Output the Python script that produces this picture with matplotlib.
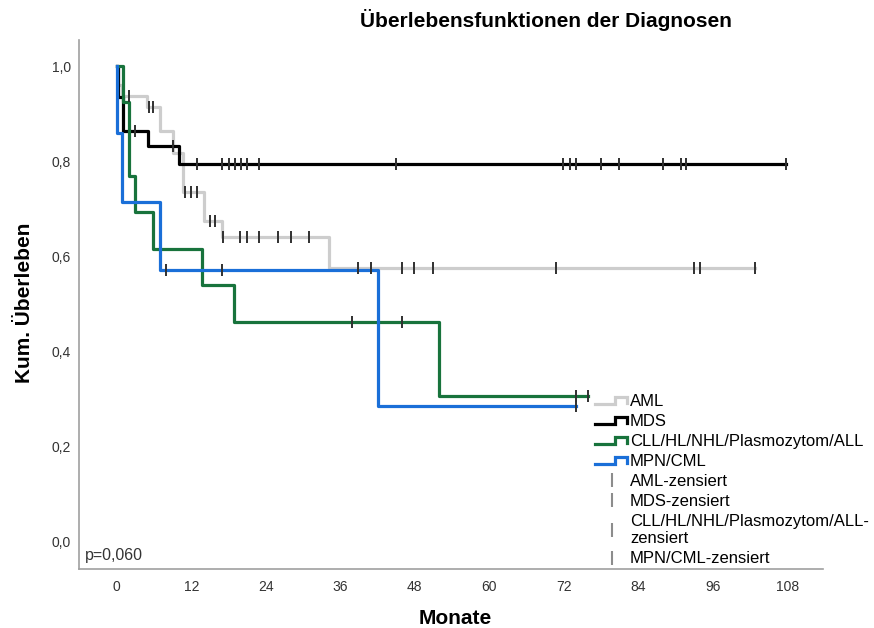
import numpy as np
import matplotlib
matplotlib.use('Agg')
import matplotlib.pyplot as plt
from matplotlib.lines import Line2D
from matplotlib.legend_handler import HandlerLine2D

plt.rcParams['font.family'] = ['Liberation Sans', 'DejaVu Sans']

# ===== Daten: Kaplan-Meier-Stufen (Monate, Überlebensrate) =====
groups = ['AML', 'MDS', 'CLL/HL/NHL/Plasmozytom/ALL', 'MPN/CML']
colors = ['#cdcdcd', '#000000', '#18733c', '#1a6fd8']

aml_t = [0, 0.25, 0.8, 4.9, 7.0, 9.1, 10.7, 14.0, 17.0, 34.1]
aml_s = [1.0, 0.961, 0.938, 0.915, 0.864, 0.817, 0.735, 0.675, 0.641, 0.576]
aml_end = 102.8
aml_cens = [2.0, 5.2, 5.8, 11.0, 12.0, 12.9, 15.0, 15.9, 17.1, 19.9, 20.9, 22.9,
            26.0, 28.0, 31.0, 38.9, 40.9, 46.0, 47.9, 50.9, 70.8, 92.9, 93.9, 102.8]

mds_t = [0, 0.2, 1.0, 5.1, 10.0]
mds_s = [1.0, 0.936, 0.865, 0.833, 0.794]
mds_end = 107.8
mds_cens = [2.95, 9.1, 13.0, 17.0, 18.0, 19.0, 20.0, 21.0, 22.9, 45.0, 71.9, 72.9,
            73.9, 77.9, 80.9, 87.9, 90.8, 91.7, 107.8]

cll_t = [0, 1.0, 2.0, 2.95, 5.9, 13.8, 18.9, 51.9]
cll_s = [1.0, 0.926, 0.769, 0.693, 0.615, 0.540, 0.461, 0.307]
cll_end = 75.8
cll_cens = [37.9, 46.0, 73.9, 75.8]

mpn_t = [0, 0.05, 0.8, 7.0, 42.0]
mpn_s = [1.0, 0.859, 0.715, 0.571, 0.286]
mpn_end = 73.9
mpn_cens = [7.9, 17.0, 73.9]

curves = [(aml_t, aml_s, aml_end, aml_cens),
          (mds_t, mds_s, mds_end, mds_cens),
          (cll_t, cll_s, cll_end, cll_cens),
          (mpn_t, mpn_s, mpn_end, mpn_cens)]

x_ticks = [0, 12, 24, 36, 48, 60, 72, 84, 96, 108]
y_ticks = [0.0, 0.2, 0.4, 0.6, 0.8, 1.0]
p_text = 'p=0,060'


class StepHandler(HandlerLine2D):
    # kleines Treppensymbol in der Legende
    def create_artists(self, legend, orig_handle, xdescent, ydescent,
                       width, height, fontsize, trans):
        xs = np.array([0.0, 0.6, 0.6, 0.95, 0.95]) * width - xdescent
        ys = np.array([0.15, 0.15, 0.75, 0.75, 0.3]) * height - ydescent
        line = Line2D(xs, ys, color=orig_handle.get_color(),
                      lw=orig_handle.get_linewidth(), solid_joinstyle='miter')
        line.set_transform(trans)
        return [line]


fig = plt.figure(figsize=(8.74, 6.28), dpi=100)
ax = fig.add_axes([0.0904, 0.0939, 0.8512, 0.8424])

censor_color = '#303030'
handles = []
for (t, s, end, cens), col, name in zip(curves, colors, groups):
    t = np.asarray(t)
    s = np.asarray(s)
    ln, = ax.step(np.r_[t, end], np.r_[s, s[-1]], where='post',
                  color=col, lw=2.3, label=name)
    handles.append(ln)

for (t, s, end, cens), col in zip(curves, colors):
    t = np.asarray(t)
    s = np.asarray(s)
    c = np.asarray(cens)
    cy = s[np.searchsorted(t, c, side='right') - 1]
    ax.plot(c, cy, ls='none', marker='|', ms=9, mew=1.4, color=censor_color, zorder=5)

ax.set_xlim(-6.07, 113.7)
ax.set_ylim(-0.058, 1.0556)
ax.set_xticks(x_ticks)
ax.set_xticklabels([str(v) for v in x_ticks])
ax.set_yticks(y_ticks)
ax.set_yticklabels([f'{v:.1f}'.replace('.', ',') for v in y_ticks])
ax.tick_params(length=0, labelsize=10, labelcolor='#333333')
ax.tick_params(axis='y', pad=6)
ax.tick_params(axis='x', pad=8)
for side in ['top', 'right']:
    ax.spines[side].set_visible(False)
for side in ['left', 'bottom']:
    ax.spines[side].set_color('#a0a0a0')
    ax.spines[side].set_linewidth(1.2)

ax.text(0.008, 0.026, p_text, transform=ax.transAxes, ha='left', va='center',
        fontsize=11.5, color='#333333')

fig.text(0.625, 0.968, 'Überlebensfunktionen der Diagnosen', ha='center', va='center',
         fontsize=15, fontweight='bold')
fig.text(455 / 874, 1 - 619 / 628, 'Monate', ha='center', va='center',
         fontsize=15, fontweight='bold')
fig.text(25 / 874, 1 - 303 / 628, 'Kum. Überleben', ha='center', va='center',
         rotation=90, fontsize=15, fontweight='bold')

# Legende mit Zensierungszeichen
cens_handles = [Line2D([], [], ls='none', marker='|', ms=10, mew=1.5, color='#8c8c8c')
                for _ in groups]
cens_labels = ['AML-zensiert', 'MDS-zensiert', 'CLL/HL/NHL/Plasmozytom/ALL-\nzensiert',
               'MPN/CML-zensiert']
hmap = {h: StepHandler() for h in handles}
leg = fig.legend(handles + cens_handles, groups + cens_labels,
                 loc='upper left', bbox_to_anchor=(595 / 874, 1 - 394 / 628),
                 frameon=False, fontsize=12, handlelength=2.0, handletextpad=0.1,
                 labelspacing=0.3, borderpad=0, borderaxespad=0, handler_map=hmap)
for txt in leg.get_texts():
    txt.set_linespacing(1.2)

fig.savefig('out.png', dpi=100)
